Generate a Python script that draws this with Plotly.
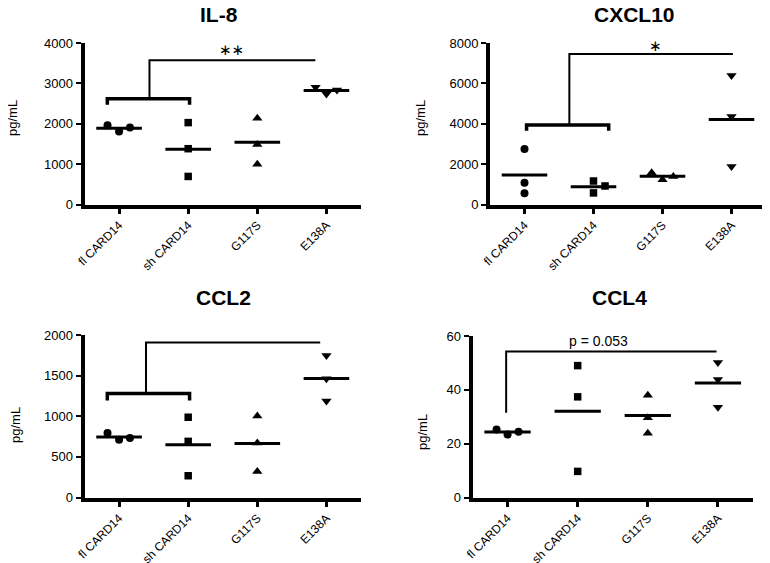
import plotly.graph_objects as go

categories = ["fl CARD14", "sh CARD14", "G117S", "E138A"]
symbols = ["circle", "square", "triangle-up", "triangle-down"]
marker_sizes = [8, 7.5, 9, 9]

# ---- values (pg/mL), per group ----
il8_values = [[1962, 1807, 1905], [2028, 1382, 695], [2134, 1488, 998], [2903, 2739, 2837]]
il8_jitter = [[-0.167, 0, 0.157], [0, 0, 0], [0, 0, 0], [-0.157, 0, 0.152]]

cxcl10_values = [[2754, 1082, 557], [1164, 574, 918], [1574, 1230, 1393], [6393, 4361, 1885]]
cxcl10_jitter = [[0, 0, 0], [0, 0, 0.167], [-0.157, 0, 0.157], [0, 0, 0]]

ccl2_values = [[793, 711, 732], [988, 691, 268], [1004, 671, 321], [1748, 1463, 1187]]
ccl2_jitter = [[-0.167, 0, 0.157], [0, 0, 0], [0, 0, 0], [0, 0, 0]]

ccl4_values = [[25.3, 23.4, 24.4], [49.0, 37.4, 9.7], [38.0, 29.6, 23.9], [50.2, 43.8, 33.5]]
ccl4_jitter = [[-0.157, 0, 0.157], [0, 0, 0], [0, 0, 0], [0, 0, 0]]

# ---- significance brackets: group bracket (left, right, y, leg_y), stem x, top y, end x, label ----
il8_sig = dict(left=-0.17, right=1.02, y=2617, leg=2470, stem=0.44, top=3573, end=2.84, label="∗∗", lx=1.63, ly=3830)
cxcl10_sig = dict(left=0.03, right=1.22, y=3934, leg=3656, stem=0.65, top=7459, end=3.02, label="∗", lx=1.9, ly=7860)
ccl2_sig = dict(left=-0.17, right=1.02, y=1280, leg=1195, stem=0.39, top=1907, end=2.91, label="∗∗", lx=1.63, ly=2025)
ccl4_sig = dict(left=None, right=None, y=31.5, leg=None, stem=-0.02, top=54.2, end=2.98, label="p = 0.053", lx=1.3, ly=58.2)

# layout positions in window pixels (left/right, bottom/top)
panels = [
    dict(name="IL-8", values=il8_values, jitter=il8_jitter, sig=il8_sig, ymax=4000, dtick=1000,
         xdom=(84.5, 361), ydom=(204.5, 43), title_xy=(219, 15), ytitle_xy=(13, 118)),
    dict(name="CXCL10", values=cxcl10_values, jitter=cxcl10_jitter, sig=cxcl10_sig, ymax=8000, dtick=2000,
         xdom=(490, 766), ydom=(204.5, 43), title_xy=(634, 15), ytitle_xy=(421, 118)),
    dict(name="CCL2", values=ccl2_values, jitter=ccl2_jitter, sig=ccl2_sig, ymax=2000, dtick=500,
         xdom=(84.5, 361), ydom=(497.5, 335), title_xy=(223, 297), ytitle_xy=(15, 425)),
    dict(name="CCL4", values=ccl4_values, jitter=ccl4_jitter, sig=ccl4_sig, ymax=60, dtick=20,
         xdom=(472.5, 753), ydom=(497.5, 336), title_xy=(619, 297), ytitle_xy=(422, 432)),
]

OFF = 8  # default page body margin
W, H = 770 - OFF, 563 - OFF


def px_x(v):
    return (v - OFF) / W


def px_y(v):
    return 1 - (v - OFF) / H


FONT = "Liberation Sans, Arial, Helvetica, sans-serif"
fig = go.Figure()
annotations = []

for k, p in enumerate(panels):
    n = "" if k == 0 else str(k + 1)
    xa, ya = "x" + n, "y" + n
    for i, cat in enumerate(categories):
        vals = p["values"][i]
        xs = [i + j for j in p["jitter"][i]]
        fig.add_trace(go.Scatter(x=xs, y=vals, mode="markers", xaxis=xa, yaxis=ya,
                                 marker=dict(symbol=symbols[i], size=marker_sizes[i], color="black",
                                             line=dict(width=0)),
                                 showlegend=False, cliponaxis=False))
        mean = sum(vals) / len(vals)
        fig.add_trace(go.Scatter(x=[i - 0.33, i + 0.33], y=[mean, mean], mode="lines", xaxis=xa, yaxis=ya,
                                 line=dict(color="black", width=3), showlegend=False))
    s = p["sig"]
    if s["left"] is not None:
        fig.add_trace(go.Scatter(x=[s["left"], s["left"], s["right"], s["right"]],
                                 y=[s["leg"], s["y"], s["y"], s["leg"]], mode="lines",
                                 xaxis=xa, yaxis=ya, line=dict(color="black", width=3.5),
                                 showlegend=False, cliponaxis=False))
    fig.add_trace(go.Scatter(x=[s["stem"], s["stem"], s["end"]], y=[s["y"], s["top"], s["top"]],
                             mode="lines", xaxis=xa, yaxis=ya, line=dict(color="black", width=2),
                             showlegend=False, cliponaxis=False))
    is_p = s["label"].startswith("p")
    annotations.append(dict(x=s["lx"], y=s["ly"], xref=xa, yref=ya, text=s["label"], showarrow=False,
                            font=dict(size=14 if is_p else 15, color="black",
                                      family=FONT if is_p else "DejaVu Sans"),
                            xanchor="center", yanchor="middle"))
    # panel title
    annotations.append(dict(x=px_x(p["title_xy"][0]), y=px_y(p["title_xy"][1]), xref="paper", yref="paper",
                            text="<b>%s</b>" % p["name"], showarrow=False,
                            font=dict(size=21, color="black", family=FONT), xanchor="center", yanchor="middle"))
    annotations.append(dict(x=px_x(p["ytitle_xy"][0]), y=px_y(p["ytitle_xy"][1]), xref="paper", yref="paper",
                            text="pg/mL", textangle=-90, showarrow=False,
                            font=dict(size=13, color="black", family=FONT), xanchor="center", yanchor="middle"))

    xkey = "xaxis" + n
    ykey = "yaxis" + n
    fig.update_layout(**{
        xkey: dict(domain=[px_x(p["xdom"][0]), min(1, px_x(p["xdom"][1]))], anchor=ya, range=[-0.5, 3.5],
                   tickvals=list(range(len(categories))), ticktext=categories, tickangle=-45,
                   showline=True, linecolor="black", linewidth=4, ticks="outside", ticklen=5,
                   tickwidth=3, tickcolor="black", showgrid=False, zeroline=False, automargin=False,
                   tickfont=dict(size=12, color="black", family=FONT)),
        ykey: dict(domain=[px_y(p["ydom"][0]), px_y(p["ydom"][1])], anchor=xa, range=[0, p["ymax"]],
                   dtick=p["dtick"], tick0=0, showline=True, linecolor="black", linewidth=4,
                   ticks="outside", ticklen=5, tickwidth=2, tickcolor="black", showgrid=False,
                   zeroline=False, automargin=False, tickfont=dict(size=13, color="black", family=FONT)),
    })

fig.update_layout(template="none", width=W, height=H, margin=dict(l=0, r=0, t=0, b=0, autoexpand=False),
                  plot_bgcolor="white", paper_bgcolor="white", annotations=annotations,
                  showlegend=False, font=dict(family=FONT, color="black"))
fig.write_html("out.html")
